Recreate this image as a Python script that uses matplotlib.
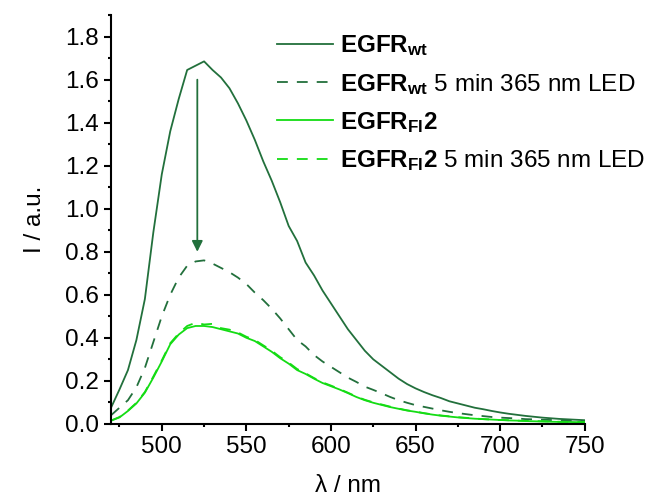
"""
Fluorescence emission spectra of EGFR_wt and EGFR_Fl2 before and after
5 min irradiation with a 365 nm LED.
"""

import matplotlib.pyplot as plt
from matplotlib.ticker import MultipleLocator

plt.rcParams["font.family"] = ["Liberation Sans", "DejaVu Sans"]
plt.rcParams["mathtext.fontset"] = "custom"
plt.rcParams["mathtext.rm"] = "Liberation Sans"
plt.rcParams["mathtext.bf"] = "Liberation Sans:bold"
plt.rcParams["mathtext.it"] = "Liberation Sans:italic"

wavelength = list(range(470, 755, 5))

egfr_wt = [0.075, 0.16, 0.25, 0.39, 0.58, 0.89, 1.16, 1.36, 1.51, 1.645,
           1.665, 1.685, 1.645, 1.61, 1.56, 1.49, 1.41, 1.32, 1.22, 1.13,
           1.03, 0.92, 0.85, 0.75, 0.69, 0.62, 0.56, 0.50, 0.44, 0.39,
           0.34, 0.30, 0.27, 0.24, 0.21, 0.185, 0.165, 0.148, 0.133, 0.12,
           0.105, 0.095, 0.085, 0.075, 0.068, 0.06, 0.053, 0.047, 0.042, 0.037,
           0.033, 0.029, 0.026, 0.023, 0.021, 0.019, 0.017]

egfr_wt_led = [0.04, 0.075, 0.11, 0.17, 0.26, 0.38, 0.50, 0.60, 0.68, 0.735,
               0.755, 0.76, 0.745, 0.725, 0.705, 0.68, 0.65, 0.61, 0.575, 0.535,
               0.49, 0.44, 0.39, 0.36, 0.32, 0.29, 0.265, 0.24, 0.215, 0.195,
               0.173, 0.158, 0.142, 0.125, 0.11, 0.098, 0.087, 0.079, 0.071, 0.063,
               0.056, 0.05, 0.045, 0.04, 0.036, 0.032, 0.029, 0.027, 0.025, 0.022,
               0.021, 0.019, 0.018, 0.016, 0.015, 0.014, 0.013]

egfr_fl2 = [0.015, 0.03, 0.06, 0.095, 0.145, 0.215, 0.29, 0.37, 0.415, 0.445,
            0.455, 0.455, 0.45, 0.44, 0.43, 0.42, 0.40, 0.385, 0.36, 0.335,
            0.305, 0.28, 0.25, 0.232, 0.21, 0.19, 0.175, 0.16, 0.143, 0.125,
            0.11, 0.098, 0.088, 0.078, 0.07, 0.062, 0.056, 0.049, 0.043, 0.038,
            0.034, 0.03, 0.027, 0.024, 0.022, 0.02, 0.018, 0.016, 0.015, 0.013,
            0.012, 0.011, 0.01, 0.009, 0.009, 0.008, 0.008]

egfr_fl2_led = [0.015, 0.032, 0.062, 0.098, 0.148, 0.22, 0.295, 0.375, 0.42, 0.455,
                0.47, 0.462, 0.465, 0.445, 0.438, 0.425, 0.405, 0.39, 0.365, 0.34,
                0.31, 0.285, 0.255, 0.235, 0.213, 0.193, 0.178, 0.162, 0.145, 0.127,
                0.112, 0.1, 0.09, 0.08, 0.071, 0.063, 0.057, 0.05, 0.044, 0.039,
                0.035, 0.031, 0.028, 0.025, 0.022, 0.02, 0.018, 0.017, 0.015, 0.014,
                0.013, 0.012, 0.011, 0.01, 0.009, 0.009, 0.008]

dark = "#22703c"
light = "#14dc14"

fig = plt.figure(figsize=(6.57, 5.04), dpi=100)
ax = fig.add_axes([0.169, 0.159, 0.721, 0.811])

ax.plot(wavelength, egfr_wt, color=dark, lw=1.3, label=r"$\mathbf{EGFR_{wt}}$")
ax.plot(wavelength, egfr_wt_led, color=dark, lw=1.3, ls=(0, (6, 5)),
        label=r"$\mathbf{EGFR_{wt}}$ 5 min 365 nm LED")
ax.plot(wavelength, egfr_fl2, color=light, lw=1.3, label=r"$\mathbf{EGFR_{Fl}2}$")
ax.plot(wavelength, egfr_fl2_led, color=light, lw=1.3, ls=(0, (6, 5)),
        label=r"$\mathbf{EGFR_{Fl}2}$ 5 min 365 nm LED")

# arrow showing the drop after irradiation
ax.annotate("", xy=(521, 0.80), xytext=(521, 1.60),
            arrowprops=dict(arrowstyle="-|>", color=dark, lw=1.3,
                            mutation_scale=16, shrinkA=0, shrinkB=0))

ax.set_xlim(470, 750)
ax.set_ylim(0, 1.9)
ax.xaxis.set_major_locator(MultipleLocator(50))
ax.xaxis.set_minor_locator(MultipleLocator(25))
ax.yaxis.set_major_locator(MultipleLocator(0.2))
ax.yaxis.set_minor_locator(MultipleLocator(0.1))
ax.yaxis.set_major_formatter(lambda v, p: f"{v:.1f}")

for side in ["top", "right"]:
    ax.spines[side].set_visible(False)
for side in ["left", "bottom"]:
    ax.spines[side].set_linewidth(1.5)
ax.tick_params(which="major", direction="out", length=5, width=1.5,
               labelsize=17.5, pad=4)
ax.tick_params(which="minor", direction="out", length=2.5, width=1.5)

ax.set_xlabel("λ / nm", fontsize=17.5, labelpad=12)
ax.set_ylabel("I / a.u.", fontsize=17.5, labelpad=13)

ax.legend(loc="upper left", bbox_to_anchor=(0.325, 0.985), frameon=False,
          fontsize=17.5, handlelength=2.3, handletextpad=0.3, labelspacing=0.55,
          borderpad=0)

plt.savefig("out.png", dpi=100)
